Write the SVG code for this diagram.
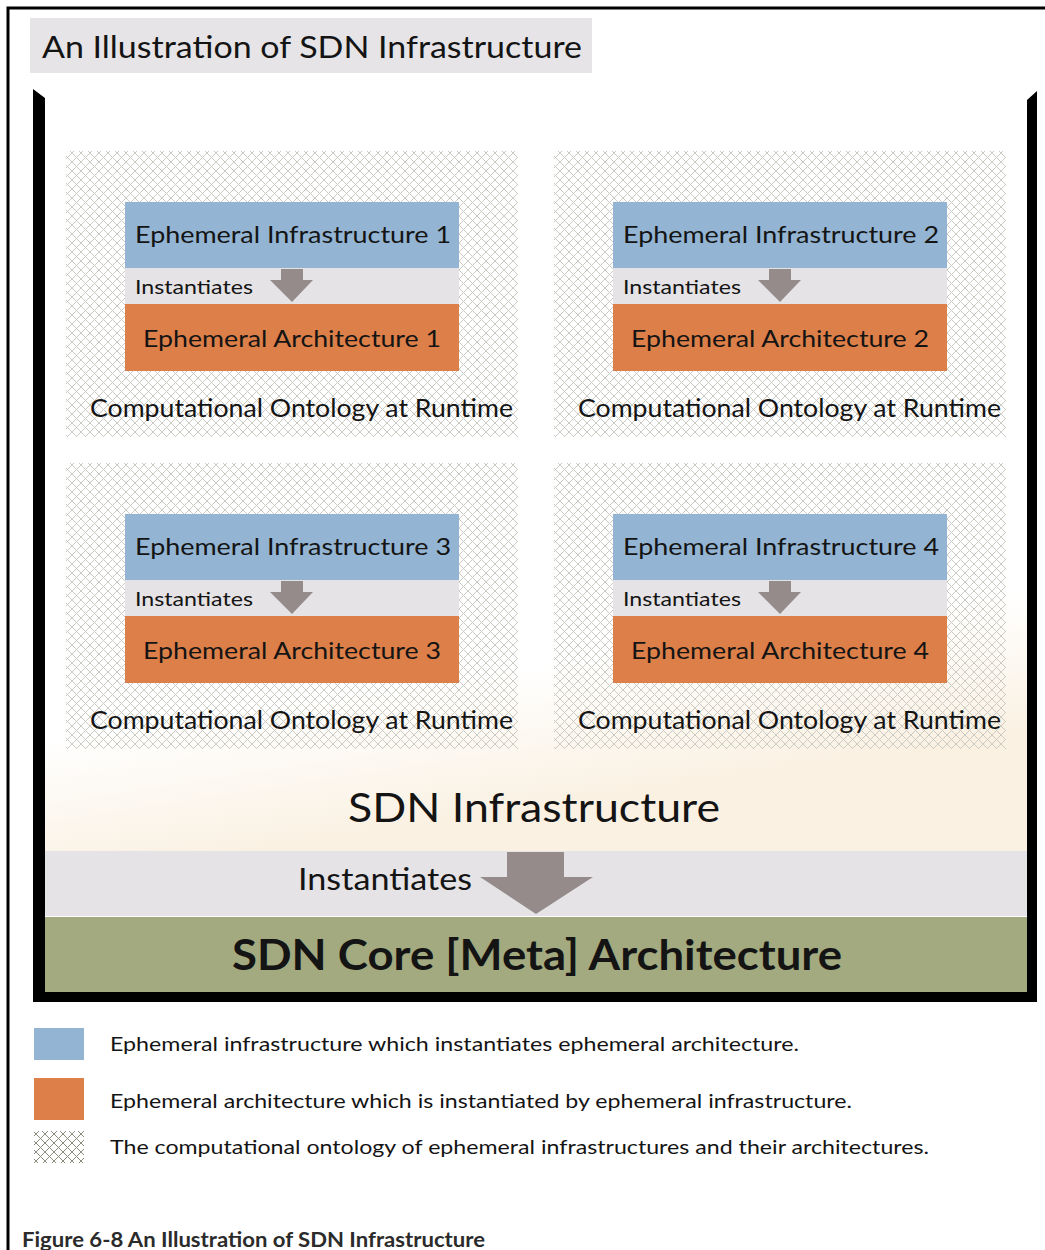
<svg xmlns="http://www.w3.org/2000/svg" width="1045" height="1250" viewBox="0 0 1045 1250">
<style>
text{font-family:Lato,"Liberation Sans",sans-serif;fill:#141414}
.blue{fill:#93b4d2}
.orange{fill:#dd7f48}
.strip{fill:#e5e3e5}
.arr{fill:#958b8b}
.t24{font-size:24px}
.t19{font-size:19px}
.t25{font-size:25px}
.leg{font-size:20px}
</style>
<defs>
<pattern id="hatch" patternUnits="userSpaceOnUse" width="9" height="9">
<path d="M0,0 L9,9 M9,0 L0,9" stroke="#cbcbc3" stroke-width="1" fill="none"/>
</pattern>
<pattern id="hatchDark" patternUnits="userSpaceOnUse" width="9" height="9">
<path d="M0,0 L9,9 M9,0 L0,9" stroke="#8a8d7c" stroke-width="1" fill="none"/>
</pattern>
<linearGradient id="bg" x1="0" y1="0" x2="0.2" y2="1">
<stop offset="0" stop-color="#ffffff"/>
<stop offset="0.82" stop-color="#ffffff"/>
<stop offset="1" stop-color="#faf1e3"/>
</linearGradient>
<g id="panel">
<rect x="66" y="151" width="452" height="286" fill="url(#hatch)"/>
<rect class="blue" x="125" y="202" width="334" height="66"/>
<rect class="strip" x="125" y="268" width="334" height="36"/>
<rect class="orange" x="125" y="304" width="334" height="67"/>
<path class="arr" d="M281,269 L303,269 L303,280 L313,280 L292,302 L270,280 L281,280 Z"/>
<text class="t19" x="135" y="294" textLength="118" lengthAdjust="spacingAndGlyphs">Instantiates</text>
<text class="t25" x="90" y="417" textLength="423" lengthAdjust="spacingAndGlyphs">Computational Ontology at Runtime</text>
</g>
</defs>

<!-- outer frame -->
<path d="M8,1250 L8,8 L1045,8" fill="none" stroke="#000" stroke-width="3"/>

<!-- title -->
<g id="title">
<rect x="30" y="18" width="562" height="55" fill="#e6e4e6"/>
<text x="42" y="58" font-size="31" textLength="540" lengthAdjust="spacingAndGlyphs">An Illustration of SDN Infrastructure</text>
</g>

<!-- container background -->
<rect x="45" y="96" width="982" height="755" fill="url(#bg)"/>

<g id="panel1">
<use href="#panel"/>
<text class="t24" x="135" y="243" textLength="316" lengthAdjust="spacingAndGlyphs">Ephemeral Infrastructure 1</text>
<text class="t24" x="143" y="347" textLength="298" lengthAdjust="spacingAndGlyphs">Ephemeral Architecture 1</text>
</g>
<g id="panel2" transform="translate(488,0)">
<use href="#panel"/>
<text class="t24" x="135" y="243" textLength="316" lengthAdjust="spacingAndGlyphs">Ephemeral Infrastructure 2</text>
<text class="t24" x="143" y="347" textLength="298" lengthAdjust="spacingAndGlyphs">Ephemeral Architecture 2</text>
</g>
<g id="panel3" transform="translate(0,312)">
<use href="#panel"/>
<text class="t24" x="135" y="243" textLength="316" lengthAdjust="spacingAndGlyphs">Ephemeral Infrastructure 3</text>
<text class="t24" x="143" y="347" textLength="298" lengthAdjust="spacingAndGlyphs">Ephemeral Architecture 3</text>
</g>
<g id="panel4" transform="translate(488,312)">
<use href="#panel"/>
<text class="t24" x="135" y="243" textLength="316" lengthAdjust="spacingAndGlyphs">Ephemeral Infrastructure 4</text>
<text class="t24" x="143" y="347" textLength="298" lengthAdjust="spacingAndGlyphs">Ephemeral Architecture 4</text>
</g>

<g id="sdn-infrastructure">
<text x="348" y="822" font-size="40" textLength="372" lengthAdjust="spacingAndGlyphs">SDN Infrastructure</text>
</g>

<g id="instantiates-strip">
<rect class="strip" x="45" y="851" width="982" height="65"/>
<text x="298" y="890" font-size="31" textLength="174" lengthAdjust="spacingAndGlyphs">Instantiates</text>
</g>

<g id="connectors">
<path class="arr" d="M507,852 L564,852 L564,877 L593,877 L536,914 L480,877 L507,877 Z"/>
</g>

<g id="sdn-core">
<rect x="45" y="917" width="982" height="75" fill="#a3aa7f"/>
<text x="232" y="970" font-size="42" font-weight="bold" textLength="610" lengthAdjust="spacingAndGlyphs">SDN Core [Meta] Architecture</text>
</g>

<!-- bucket -->
<path d="M33,89 L45,98 L45,992 L1027,992 L1027,100 L1037,91 L1037,1002 L33,1002 Z" fill="#000"/>

<!-- legend -->
<g id="legend">
<rect class="blue" x="34" y="1028" width="50" height="32"/>
<text class="leg" x="110" y="1051" textLength="689" lengthAdjust="spacingAndGlyphs">Ephemeral infrastructure which instantiates ephemeral architecture.</text>
<rect class="orange" x="34" y="1078" width="50" height="42"/>
<text class="leg" x="110" y="1108" textLength="742" lengthAdjust="spacingAndGlyphs">Ephemeral architecture which is instantiated by ephemeral infrastructure.</text>
<rect x="34" y="1131" width="50" height="32" fill="url(#hatchDark)"/>
<text class="leg" x="110" y="1154" textLength="819" lengthAdjust="spacingAndGlyphs">The computational ontology of ephemeral infrastructures and their architectures.</text>
</g>

<g id="caption">
<text x="22" y="1247" font-size="20" font-weight="bold" style="fill:#2b2b2b" textLength="463" lengthAdjust="spacingAndGlyphs">Figure 6-8 An Illustration of SDN Infrastructure</text>
</g>
</svg>
